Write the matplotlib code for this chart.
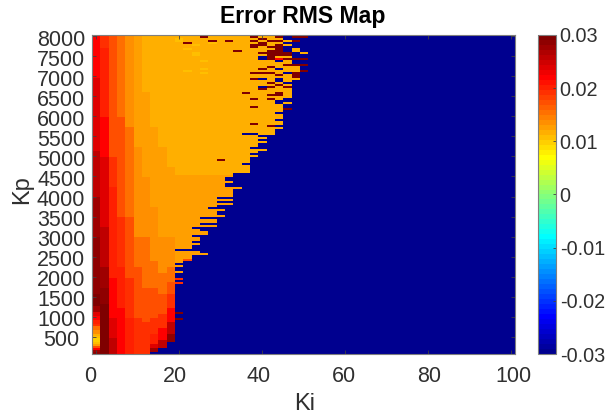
import numpy as np
import matplotlib
matplotlib.use('Agg')
import matplotlib.pyplot as plt
from matplotlib.colors import LinearSegmentedColormap
from matplotlib.transforms import ScaledTranslation

plt.rcParams['font.family'] = ['Liberation Sans', 'DejaVu Sans']

ki = np.arange(0, 102, 2)
kp = np.arange(8000, 50, -50)  # first row of the map is the top one

# error value of each letter used below, '.' is the blue area
levels = {'.': -0.03, 'A': 0.0089, 'B': 0.0098, 'C': 0.0108, 'D': 0.0117, 'E': 0.0127,
          'F': 0.0136, 'G': 0.0155, 'H': 0.0173, 'I': 0.0192, 'J': 0.0202, 'K': 0.022,
          'L': 0.0239, 'M': 0.0258, 'N': 0.0272, 'O': 0.0286, 'P': 0.0296}

# left columns, Ki = 0..18: (last row, level) runs from the top
left_cols = [
    [(21, 'K'), (57, 'L'), (80, 'M'), (100, 'N'), (128, 'O'), (134, 'P'), (137, 'N'), (139, 'L'),
     (141, 'K'), (143, 'J'), (144, 'I'), (146, 'G'), (148, 'F'), (149, 'D'), (150, 'C'), (152, 'B'),
     (153, 'C'), (154, 'E'), (155, 'H'), (156, 'K'), (157, 'N'), (158, 'O')],
    [(6, 'I'), (40, 'J'), (60, 'K'), (95, 'L'), (115, 'M'), (125, 'N'), (133, 'O'), (158, 'P')],
    [(60, 'H'), (75, 'I'), (120, 'J'), (140, 'K'), (150, 'L'), (158, 'M')],
    [(40, 'G'), (90, 'H'), (115, 'I'), (135, 'J'), (158, 'K')],
    [(45, 'F'), (90, 'G'), (120, 'H'), (140, 'I'), (158, 'J')],
    [(55, 'E'), (100, 'F'), (115, 'G'), (140, 'H'), (158, 'I')],
    [(28, 'D'), (70, 'E'), (100, 'F'), (125, 'G'), (142, 'H'), (158, 'I')],
    [(45, 'D'), (85, 'E'), (112, 'F'), (125, 'G'), (140, 'H'), (148, 'I'), (153, 'J'), (155, 'L'), (157, 'N')],
    [(55, 'D'), (100, 'E'), (118, 'F'), (128, 'G'), (138, 'H'), (145, 'I'), (151, 'K'), (155, 'M')],
    [(65, 'D'), (100, 'E'), (115, 'F'), (122, 'G'), (128, 'H'), (135, 'I'), (142, 'K'), (148, 'M'), (152, 'O')],
]

# top rows, Ki = 20 upwards, one letter per column, blue after the end of each string
top_rows = [
    'DDDDPDDD.DDPD.P', 'DDDPDDDDDPDDP.PP', 'CDDDDDDDDDPDD', 'CDDDPDPDDPDPPDP',
    'DPDDCDDDDDPDD', 'DDCDDDDDDPPDPD', 'DDDDDDDDDPDPP', 'DCDDDDDDDDDDP.D',
    'DDDDDDDPDDDPP.D', 'DDCDDDDDDDPPPP.D', 'DDCDDDDDDDDPPP', 'DDDDDDDDDD.PDD',
    'DDDDDDDDDD.PKPPP', 'DDDCDDDDDDDD.D', 'DDDDDDDDDDDDDD', 'DDDDDDDDDDDDDPPP',
    'DDDDDDDDDDDPDDD', 'DDDCDDDDDDPD.DD', 'DCDDDDDDDDDDDDDP', 'DDDCDDDDDPPPD.P',
    'DDDDDDDDDDDDPDP', 'DDDDDDDDDDDDDDP', 'DDDDDDDDDP.D.DD', 'DDDDDDDDDDDD.D',
    'DDDDDDDDDDDPD', 'DDDDDDDDDDDDPD', 'DDDDDDDDDD.PDP', 'DDDDDDDDDDPDDD',
    'DDDDDDDDDDDDDD', 'DDDDDDDDPDDDPD', 'DDDDDDDDDDDPPD', 'DDDDDDDDDDDDDD',
    'DDDDDDDDDPDPD', 'DDDDDDDDDDDD', 'DDDDDDDDDDDD.D', 'DDDDDDDDDDDDD',
    'DDDDDDDDDPDDD', 'DDDDDDDDDDDDDP', 'DDDDDDDDDDDDD', 'DDDDDDDDDDDD',
    'DDDDDDDDDDDDD', 'DDDDDDDDDDDDD', 'DDDDDDDDDDDD', 'DDDDDDDDDDDDD',
    'DDDDDDDDDPDDD', 'DDDDDDDDDDDP', 'DDDDDDDDDDDDD', 'DDDDDDDDDDDD',
    'DDDDDDDDDDDD', 'DDDDDDDD..DD',
]

# rows 50..123: last column that is not blue
edge_cols = [19, 20, 19, 20, 19, 19, 18, 20, 19, 18, 19, 18, 18, 18, 17, 18, 18, 18, 18, 16,
             16, 15, 15, 16, 15, 15, 17, 16, 16, 16, 16, 14, 16, 14, 16, 14, 13, 15, 14, 14,
             15, 12, 14, 14, 12, 14, 11, 12, 13, 13, 11, 12, 12, 11, 12, 11, 11, 9, 12, 13,
             11, 11, 11, 10, 9, 10, 9, 9, 10, 9, 9, 10, 9, 10]

# single cells that stand out: (row, column, level)
spots = [(62, 15, 'P'), (112, 11, 'H'), (121, 10, 'I'), (123, 10, 'I'), (138, 10, 'P'), (141, 10, 'P')]

xtick_vals = [0, 20, 40, 60, 80, 100]
ytick_vals = list(range(500, 8500, 500))
cbar_vals = [-0.03, -0.02, -0.01, 0, 0.01, 0.02, 0.03]
cbar_labels = ['-0.03', '-0.02', '-0.01', '0', '0.01', '0.02', '0.03']

# fill the map from the lists above
err = np.full((len(kp), len(ki)), levels['.'])
for c, runs in enumerate(left_cols):
    first = 0
    for last, lev in runs:
        err[first:last + 1, c] = levels[lev]
        first = last + 1
for r, row in enumerate(top_rows):
    for i, lev in enumerate(row):
        err[r, 10 + i] = levels[lev]
for i, last in enumerate(edge_cols):
    r = 50 + i
    if last >= 10:
        err[r, 10:last + 1] = levels['D'] if r < 70 else levels['E']
for r, c, lev in spots:
    err[r, c] = levels[lev]

# matlab style jet, 64 steps
jet_points = [(0, (0, 0, 0.5625)), (7 / 63, (0, 0, 1)), (23 / 63, (0, 1, 1)), (39 / 63, (1, 1, 0)),
              (55 / 63, (1, 0, 0)), (1, (0.5, 0, 0))]
jet64 = LinearSegmentedColormap.from_list('jet64', jet_points, N=64)

W, H = 609, 416
fig = plt.figure(figsize=(W / 100, H / 100), dpi=100)
ax = fig.add_axes([91.7 / W, (H - 354) / H, (515 - 91.7) / W, 319 / H])
cax = fig.add_axes([538 / W, (H - 354) / H, 17.5 / W, 319 / H])

im = ax.imshow(err, cmap=jet64, vmin=-0.03, vmax=0.03, aspect='auto', interpolation='nearest',
               extent=[-1, 101, 75, 8025], origin='upper')

text_col = '#303030'
edge_col = '#7f7f7f'

ax.set_xticks(xtick_vals)
ax.set_yticks(ytick_vals)
ax.tick_params(axis='both', direction='in', length=3, width=0.6, color='#404040', top=True, right=True,
               labelsize=15.5, labelcolor=text_col)
ax.tick_params(axis='x', pad=9)
ax.tick_params(axis='y', pad=22)
for s in ax.spines.values():
    s.set_color(edge_col)
    s.set_linewidth(0.8)

# labels sit a little off their ticks in the original
x_shift = [-6, -4, -3, -1, 1, 3]
for lab, dx in zip(ax.get_xticklabels(), x_shift):
    lab.set_transform(lab.get_transform() + ScaledTranslation(dx / 100, 0, fig.dpi_scale_trans))
for lab in ax.get_yticklabels():
    lab.set_ha('center')
    lab.set_transform(lab.get_transform() + ScaledTranslation(0, -1.5 / 100, fig.dpi_scale_trans))

fig.text(303 / W, 1 - 16 / H, 'Error RMS Map', ha='center', va='center', fontsize=16.6, fontweight='bold', color='black')
fig.text(304.5 / W, 1 - 404 / H, 'Ki', ha='center', va='center', fontsize=17, color=text_col)
fig.text(22 / W, 1 - 190 / H, 'Kp', ha='center', va='center', rotation=90, fontsize=17, color=text_col)

cb = fig.colorbar(im, cax=cax, ticks=cbar_vals)
cb.ax.set_yticklabels(cbar_labels)
cb.ax.tick_params(direction='in', length=2, width=0.6, color='#404040', labelsize=14.3, labelcolor=text_col, pad=3)
cb.outline.set_edgecolor(edge_col)
cb.outline.set_linewidth(0.8)

fig.savefig('out.png', dpi=100)
